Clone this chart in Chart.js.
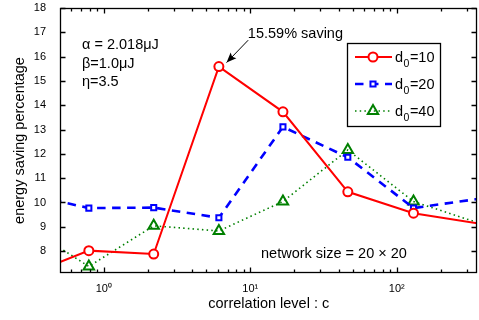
<!DOCTYPE html>
<html><head><meta charset="utf-8">
<style>html,body{margin:0;padding:0;background:#fff;}canvas{display:block;}</style>
<script src="https://cdn.jsdelivr.net/npm/chart.js@4/dist/chart.umd.min.js"></script>
</head><body>
<canvas id="c" width="479" height="320"></canvas>
<script>
// ---- data ----
const correlation = [0.284, 0.79, 2.19, 6.1, 16.7, 46.3, 130, 361];
const saving_d10 = [6.96, 8.02, 7.88, 15.59, 13.73, 10.44, 9.56, 9.14];
const saving_d20 = [10.38, 9.77, 9.79, 9.37, 13.11, 11.86, 9.77, 10.15];
const saving_d40 = [9.08, 7.37, 9.04, 8.83, 10.04, 12.16, 10.04, 9.16];
const d0Values = ['10', '20', '40'];
const xTickValues = [1, 10, 100];
const xTickLabels = ['10\u2070', '10\u00B9', '10\u00B2'];
const xMinorTicks = [0.6, 0.7, 0.8, 0.9, 2, 3, 4, 5, 6, 7, 8, 9, 20, 30, 40, 50, 60, 70, 80, 90, 200, 300];
const yTickValues = [8, 9, 10, 11, 12, 13, 14, 15, 16, 17, 18];
const paramLines = ['\u03B1 = 2.018\u03BCJ', '\u03B2=1.0\u03BCJ', '\u03B7=3.5'];
const peakLabel = '15.59% saving';
const peakIndex = 3;
const networkLabel = 'network size = 20 \u00D7 20';
const xTitle = 'correlation level : c';
const yTitle = 'energy saving percentage';

const FONT = '"Liberation Sans", Arial, Helvetica, sans-serif';
const pts = arr => correlation.map((c, i) => ({x: c, y: arr[i]}));
// markers only for points inside the visible x range (lines still run to the frame)
const inRange = (r) => (ctx) => {
  const s = ctx.chart.scales.x;
  const v = ctx.raw && ctx.raw.x;
  return (s && v >= s.min && v <= s.max) ? r : 0;
};

const datasets = [
  {label: 'd0=' + d0Values[0], data: pts(saving_d10), borderColor: '#ff0000', borderWidth: 2,
   pointStyle: 'circle', r: 4.5, pointBorderWidth: 2, pointBorderColor: '#ff0000',
   pointBackgroundColor: '#ffffff', order: 0},
  {label: 'd0=' + d0Values[1], data: pts(saving_d20), borderColor: '#0000ff', borderWidth: 2.6,
   borderDash: [8.5, 6.5], pointStyle: 'rect', r: 3.6, pointBorderWidth: 2,
   pointBorderColor: '#0000ff', pointBackgroundColor: '#ffffff', order: 1},
  {label: 'd0=' + d0Values[2], data: pts(saving_d40), borderColor: '#008000', borderWidth: 1.6,
   borderDash: [1.5, 3.2], pointStyle: 'triangle', r: 6, pointBorderWidth: 2,
   pointBorderColor: '#008000', pointBackgroundColor: 'rgba(0,0,0,0)', order: 2}
].map(d => Object.assign({tension: 0, clip: 0, fill: false,
  pointRadius: inRange(d.r), pointHoverRadius: inRange(d.r)}, d));

const framePlugin = {
  id: 'axisFrame',
  afterDatasetsDraw(chart) {
    const {ctx, chartArea: a, scales: {x, y}} = chart;
    ctx.save();
    ctx.strokeStyle = '#000';
    ctx.lineWidth = 1.3;
    ctx.setLineDash([]);
    ctx.beginPath();
    const L = Math.round(a.left) - 0.5, R = Math.round(a.right) - 0.5;
    const T = Math.round(a.top) + 0.5, B = Math.round(a.bottom) - 0.5;
    const xt = (v, len) => {
      const px = Math.round(x.getPixelForValue(v)) + 0.5;
      ctx.moveTo(px, B); ctx.lineTo(px, B - len);
      ctx.moveTo(px, T); ctx.lineTo(px, T + len);
    };
    xTickValues.forEach(v => xt(v, 5));
    xMinorTicks.forEach(v => xt(v, 3));
    yTickValues.forEach(v => {
      const py = Math.round(y.getPixelForValue(v)) + 0.5;
      ctx.moveTo(L, py); ctx.lineTo(L + 5, py);
      ctx.moveTo(R, py); ctx.lineTo(R - 5, py);
    });
    ctx.stroke();
    ctx.strokeRect(L, T, R - L, B - T);
    ctx.restore();
  }
};

const textPlugin = {
  id: 'annotTexts',
  afterDatasetsDraw(chart) {
    const {ctx, scales: {x, y}} = chart;
    ctx.save();
    ctx.fillStyle = '#000';
    ctx.strokeStyle = '#000';
    ctx.setLineDash([]);
    ctx.textBaseline = 'alphabetic';
    ctx.textAlign = 'left';
    ctx.font = '14.5px ' + FONT;
    paramLines.forEach((t, i) => ctx.fillText(t, 82, 49 + i * 18.5));
    ctx.fillText(networkLabel, 261, 257.7);
    const px = x.getPixelForValue(correlation[peakIndex]);
    const py = y.getPixelForValue(saving_d10[peakIndex]);
    ctx.fillText(peakLabel, px + 29, py - 29);
    const tx = px + 7.7, ty = py - 4, sx = px + 29.3, sy = py - 26.4;
    ctx.lineWidth = 1;
    ctx.beginPath(); ctx.moveTo(sx, sy); ctx.lineTo(tx, ty); ctx.stroke();
    const ang = Math.atan2(ty - sy, tx - sx);
    const hl = 10, hw = 4;
    ctx.beginPath();
    ctx.moveTo(tx, ty);
    ctx.lineTo(tx - hl * Math.cos(ang) + hw * Math.sin(ang), ty - hl * Math.sin(ang) - hw * Math.cos(ang));
    ctx.lineTo(tx - hl * 0.8 * Math.cos(ang), ty - hl * 0.8 * Math.sin(ang));
    ctx.lineTo(tx - hl * Math.cos(ang) - hw * Math.sin(ang), ty - hl * Math.sin(ang) + hw * Math.cos(ang));
    ctx.closePath();
    ctx.fill();
    ctx.restore();
  }
};

const legendPlugin = {
  id: 'legendBox',
  afterDraw(chart) {
    const ctx = chart.ctx;
    ctx.save();
    const bx = 347.5, by = 43.5, bw = 93, bh = 83;
    ctx.fillStyle = '#fff';
    ctx.fillRect(bx, by, bw, bh);
    ctx.strokeStyle = '#000';
    ctx.lineWidth = 1.3;
    ctx.setLineDash([]);
    ctx.strokeRect(bx, by, bw, bh);
    chart.data.datasets.forEach((ds, i) => {
      const ry = 57 + i * 27;
      ctx.save();
      ctx.strokeStyle = ds.borderColor;
      ctx.lineWidth = ds.borderWidth;
      ctx.setLineDash(ds.borderDash || []);
      ctx.beginPath(); ctx.moveTo(355, ry); ctx.lineTo(392, ry); ctx.stroke();
      ctx.setLineDash([]);
      ctx.strokeStyle = ds.pointBorderColor;
      ctx.fillStyle = ds.pointBackgroundColor;
      ctx.lineWidth = ds.pointBorderWidth;
      Chart.helpers.drawPoint(ctx, {pointStyle: ds.pointStyle, radius: ds.r, borderWidth: ds.pointBorderWidth, rotation: 0}, 373, ry);
      ctx.restore();
      ctx.fillStyle = '#000';
      ctx.textAlign = 'left';
      ctx.textBaseline = 'alphabetic';
      ctx.font = '14.5px ' + FONT;
      const base = ry + 4.5;
      ctx.fillText('d', 395, base);
      const dw = ctx.measureText('d').width;
      ctx.font = '10.5px ' + FONT;
      ctx.fillText('0', 395 + dw + 0.5, base + 5.5);
      const zw = ctx.measureText('0').width;
      ctx.font = '14.5px ' + FONT;
      ctx.fillText('=' + d0Values[i], 395 + dw + zw + 1, base);
    });
    ctx.restore();
  }
};

new Chart(document.getElementById('c'), {
  type: 'line',
  data: {datasets},
  options: {
    responsive: false, animation: false, devicePixelRatio: 1,
    layout: {autoPadding: false, padding: {left: 0, right: 2.5, top: 8, bottom: 0}},
    plugins: {legend: {display: false}, tooltip: {enabled: false}},
    scales: {
      x: {
        type: 'logarithmic', min: 0.51, max: 350,
        afterFit(s) { s.height = 47; s.paddingLeft = 0; s.paddingRight = 0; },
        afterBuildTicks(s) { s.ticks = xTickValues.map(v => ({value: v})); },
        ticks: {
          callback: v => { const i = xTickValues.indexOf(v); return i >= 0 ? xTickLabels[i] : ''; },
          autoSkip: false, maxRotation: 0, minRotation: 0, padding: 9, color: '#000',
          font: {family: FONT, size: 11}
        },
        grid: {display: false, drawTicks: false}, border: {display: false},
        title: {display: true, text: xTitle, color: '#000', font: {family: FONT, size: 14.5}, padding: {top: 0, bottom: 7.3}}
      },
      y: {
        type: 'linear', min: 7.1, max: 18,
        afterFit(s) { s.width = 61; s.paddingTop = 0; s.paddingBottom = 0; },
        afterBuildTicks(s) { s.ticks = yTickValues.map(v => ({value: v})); },
        ticks: {autoSkip: false, padding: 15, color: '#000', font: {family: FONT, size: 11}},
        grid: {display: false, drawTicks: false}, border: {display: false},
        title: {display: true, text: yTitle, color: '#000', font: {family: FONT, size: 14.5}, padding: {top: 11.3, bottom: 0}}
      }
    }
  },
  plugins: [framePlugin, textPlugin, legendPlugin]
});
</script>
</body></html>
